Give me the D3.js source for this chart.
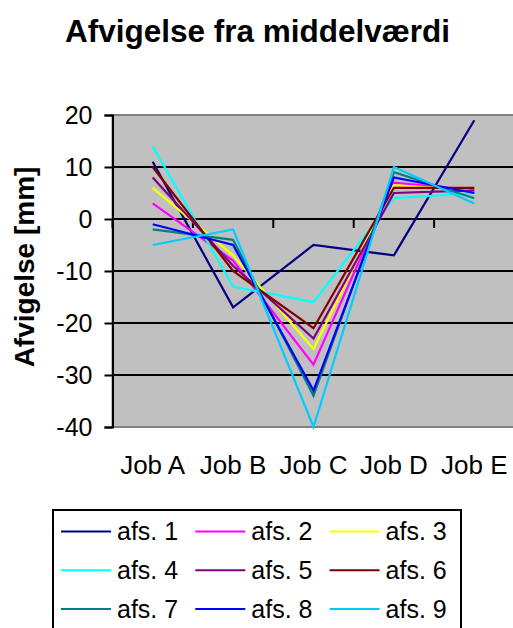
<!DOCTYPE html>
<html>
<head>
<meta charset="utf-8">
<script src="https://cdn.jsdelivr.net/npm/d3@7"></script>
<style>
  html, body { margin: 0; padding: 0; background: #fff; }
  svg { display: block; font-family: "Liberation Sans", Arial, sans-serif; }
</style>
</head>
<body>
<svg id="chart" width="513" height="628"></svg>
<script>
// Categories, series and tick values
const jobs = ["Job A", "Job B", "Job C", "Job D", "Job E"];
const seriesNames = ["afs. 1", "afs. 2", "afs. 3", "afs. 4", "afs. 5", "afs. 6", "afs. 7", "afs. 8", "afs. 9"];
const seriesColors = ["#000080", "#FF00FF", "#FFFF00", "#00FFFF", "#800080", "#800000", "#008080", "#0000FF", "#00CCFF"];
const afs1 = [11, -17, -5, -7, 19];
const afs2 = [3, -8, -28, 7, 5.5];
const afs3 = [6, -7, -25, 6.5, 5.5];
const afs4 = [14, -13, -16, 4, 5];
const afs5 = [8, -9, -23, 5, 5.5];
const afs6 = [10, -10, -21, 6, 6];
const afs7 = [-2, -4, -34, 9, 4];
const afs8 = [-1, -5, -33, 8, 5];
const afs9 = [-5, -2, -40, 10, 3];
const yTicks = [20, 10, 0, -10, -20, -30, -40];

const seriesValues = [afs1, afs2, afs3, afs4, afs5, afs6, afs7, afs8, afs9];
const series = seriesNames.map((name, i) => ({ name, color: seriesColors[i], values: seriesValues[i] }));

const svg = d3.select("#chart");
const plot = { left: 112.5, right: 514.5, top: 115, bottom: 427 };

const x = d3.scalePoint().domain(jobs).range([plot.left, plot.right]).padding(0.5);
const xBand = d3.scaleBand().domain(jobs).range([plot.left, plot.right]);
const y = d3.scaleLinear().domain([-40, 20]).range([plot.bottom, plot.top]);

// Title
svg.append("text")
  .attr("x", 257.5).attr("y", 42)
  .attr("text-anchor", "middle")
  .attr("font-size", 31.5).attr("font-weight", "bold")
  .text("Afvigelse fra middelværdi");

// Plot area
svg.append("rect")
  .attr("x", plot.left).attr("y", plot.top)
  .attr("width", plot.right - plot.left).attr("height", plot.bottom - plot.top)
  .attr("fill", "#C0C0C0").attr("stroke", "#808080").attr("stroke-width", 2);

// Horizontal gridlines
svg.append("g").selectAll("line")
  .data(yTicks.filter(t => t !== 20 && t !== -40))
  .join("line")
  .attr("x1", plot.left).attr("x2", plot.right)
  .attr("y1", d => y(d)).attr("y2", d => y(d))
  .attr("stroke", "#000").attr("stroke-width", 2);

// Y axis
const yAxis = d3.axisLeft(y).tickValues(yTicks).tickSize(8).tickPadding(12).tickFormat(d3.format("d"));
const gy = svg.append("g").attr("transform", `translate(${plot.left},0)`).call(yAxis);
gy.select(".domain").attr("stroke", "#000").attr("stroke-width", 2);
gy.selectAll(".tick line").attr("stroke", "#000").attr("stroke-width", 2);
gy.selectAll(".tick text")
  .attr("font-size", 25).attr("fill", "#000")
  .attr("font-family", "Liberation Sans, Arial, sans-serif")
  .text(d => d < 0 ? "-" + Math.abs(d) : d);

// Y axis title
svg.append("text")
  .attr("transform", `translate(34,${(plot.top + plot.bottom) / 2 - 4}) rotate(-90)`)
  .attr("text-anchor", "middle")
  .attr("font-size", 28).attr("font-weight", "bold")
  .text("Afvigelse [mm]");

// X axis along zero, with ticks on category boundaries
const x0 = y(0);
svg.append("line")
  .attr("x1", plot.left).attr("x2", plot.right)
  .attr("y1", x0).attr("y2", x0)
  .attr("stroke", "#000").attr("stroke-width", 2);
svg.append("g").selectAll("line")
  .data(jobs)
  .join("line")
  .attr("x1", d => xBand(d)).attr("x2", d => xBand(d))
  .attr("y1", x0).attr("y2", x0 + 9)
  .attr("stroke", "#000").attr("stroke-width", 2);

// Category labels below the plot
svg.append("g").selectAll("text")
  .data(jobs)
  .join("text")
  .attr("x", d => x(d)).attr("y", 473.5)
  .attr("text-anchor", "middle")
  .attr("font-size", 26)
  .text(d => d);

// Series lines
const line = d3.line().x((d, i) => x(jobs[i])).y(d => y(d));
svg.append("g").selectAll("path")
  .data(series)
  .join("path")
  .attr("d", d => line(d.values))
  .attr("fill", "none")
  .attr("stroke", d => d.color)
  .attr("stroke-width", 2.2)
  .attr("stroke-linejoin", "miter");

// Legend
const legend = svg.append("g");
legend.append("rect")
  .attr("x", 53).attr("y", 510)
  .attr("width", 408).attr("height", 130)
  .attr("fill", "#fff").attr("stroke", "#000").attr("stroke-width", 2);
const items = legend.selectAll("g.item")
  .data(series)
  .join("g")
  .attr("class", "item")
  .attr("transform", (d, i) => `translate(${61 + (i % 3) * 134.3},${531.5 + Math.floor(i / 3) * 38.8})`);
items.append("line")
  .attr("x1", 0).attr("x2", 50)
  .attr("stroke", d => d.color).attr("stroke-width", 2);
items.append("text")
  .attr("x", 56).attr("dy", "0.35em")
  .attr("font-size", 25)
  .text(d => d.name);
</script>
</body>
</html>
